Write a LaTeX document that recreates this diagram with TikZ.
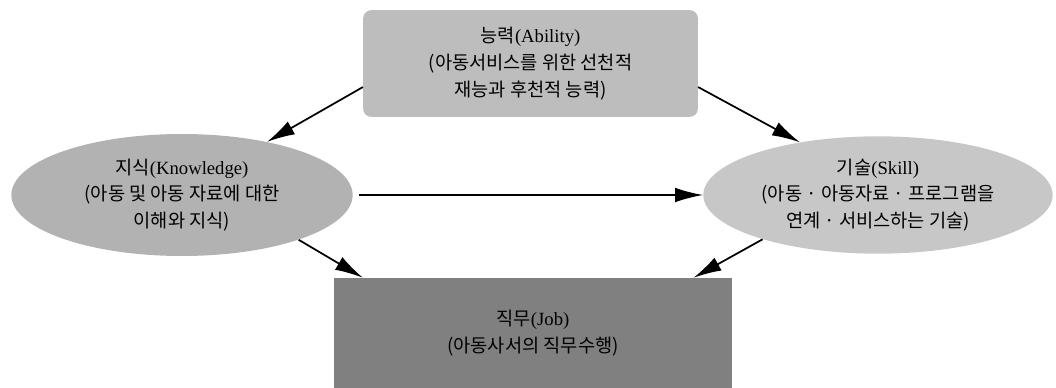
\documentclass[tikz,border=0pt]{standalone}
\usepackage{fontspec}
\usepackage{xcolor}
\usepackage{tikz}
\usetikzlibrary{arrows.meta,shapes.geometric}
\setmainfont{Liberation Serif}
\newfontfamily\kr{Noto Sans CJK KR}
\newcommand{\en}[1]{{\rmfamily #1}}

\begin{document}
\begin{tikzpicture}[x=0.75pt, y=-0.75pt,
    box/.style={inner sep=0pt, align=center, font=\kr\fontsize{14}{20}\selectfont},
    arr/.style={-{Latex[length=21pt,width=11pt]}, line width=1.3pt}]
    \useasboundingbox (0,0) rectangle (1056,388);
    \node[box, rectangle, rounded corners=6pt, fill=black!26,
      minimum width=251pt, minimum height=80pt] (ability) at (530.5,63.5)
      {능력\en{(Ability)}\\(아동서비스를 위한 선천적\\재능과 후천적 능력)};
    \node[box, ellipse, fill=black!30,
      minimum width=256pt, minimum height=91.5pt] (knowledge) at (182,195)
      {지식\en{(Knowledge)}\\(아동 및 아동 자료에 대한\\이해와 지식)};
    \node[box, ellipse, fill=black!22,
      minimum width=262pt, minimum height=88pt] (skill) at (878,195)
      {기술\en{(Skill)}\\(아동 · 아동자료 · 프로그램을\\연계 · 서비스하는 기술)};
    \node[box, rectangle, fill=black!50,
      minimum width=298.5pt, minimum height=82.5pt] (job) at (533,333)
      {직무\en{(Job)}\\(아동사서의 직무수행)};
    \draw[arr] (ability.188) -- (knowledge.32);
    \draw[arr] (ability.-8) -- (skill.146);
    \draw[arr] ([xshift=4.5pt]knowledge.east) -- (skill.west);
    \draw[arr] (knowledge.-21) -- (job.162);
    \draw[arr] (skill.201) -- (job.19);
  \end{tikzpicture}
\end{document}
